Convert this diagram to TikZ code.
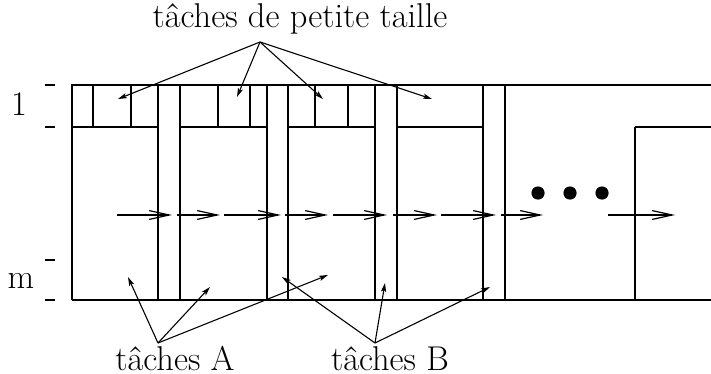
\documentclass[tikz,border=0pt]{standalone}
\usepackage{fontspec}
\usetikzlibrary{arrows.meta}
\begin{document}
\begin{tikzpicture}[x=0.5pt,y=-0.5pt, line width=0.6pt,
  flow/.style={-{Straight Barb[length=10pt,width=4.4pt]}},
  pointer/.style={-{Stealth[length=4.5pt,width=2.6pt,inset=1pt]}, line width=0.55pt},
  lbl/.style={font=\fontsize{17.2}{20}\selectfont, inner sep=0pt},
  tick/.style={line width=0.6pt}]
\useasboundingbox (0,0) rectangle (711,374);

% frame
\draw (72,300) -- (72,85) -- (711,85);
\draw (72,300) -- (711,300);
\draw (72,127) -- (158,127) (180,127) -- (267,127) (288,127) -- (375,127)
      (397,127) -- (483,127) (635,127) -- (711,127);
% full-height separators (tasks B)
\foreach \x in {158,180,267,288,375,397,483,505}
  \draw (\x,85) -- (\x,300);
% small task separators
\foreach \x in {93,131,218,250,315,348}
  \draw (\x,85) -- (\x,127);
\draw (635,127) -- (635,300);

% ticks
\foreach \y in {85,127,260,300}
  \draw[tick] (45,\y) -- (55,\y);
\node[lbl, anchor=base] (one) at (19,115) {1};
\node[lbl, anchor=base] (m) at (21,288) {m};

% flow arrows
\foreach \a/\b in {117/172,177/220,224/281,285/328,333/387,393/437,441/496,501/543,608/675}
  \draw[flow] (\a,215) -- (\b,215);

% dots
\foreach \x in {538,570,602}
  \fill (\x,193) circle (3.3pt);

% labels
\node[lbl, anchor=base] (small) at (300,28) {tâches de petite taille};
\node[lbl, anchor=base] (A) at (175,370) {tâches A};
\node[lbl, anchor=base] (B) at (390,370) {tâches B};

\coordinate (s0) at (260,42);
\coordinate (s1) at (118,99);
\coordinate (s2) at (237,97);
\coordinate (s3) at (323,99);
\coordinate (s4) at (432,99);
\foreach \t in {s1,s2,s3,s4}
  \draw[pointer] (s0) -- (\t);

\coordinate (a0) at (158,343);
\coordinate (a1) at (128,277);
\coordinate (a2) at (210,287);
\coordinate (a3) at (328,275);
\foreach \t in {a1,a2,a3}
  \draw[pointer] (a0) -- (\t);

\coordinate (b0) at (375,343);
\coordinate (b1) at (282,277);
\coordinate (b2) at (385,283);
\coordinate (b3) at (490,287);
\foreach \t in {b1,b2,b3}
  \draw[pointer] (b0) -- (\t);
\end{tikzpicture}
\end{document}
